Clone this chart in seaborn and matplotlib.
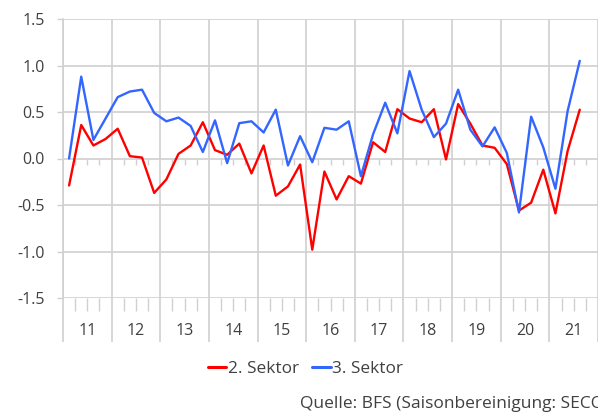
import numpy as np
import pandas as pd
import matplotlib
matplotlib.use("Agg")
import matplotlib.pyplot as plt
import matplotlib.transforms as mtransforms
from matplotlib.lines import Line2D
import seaborn as sns

# ---- data (quarterly, 2011Q1 .. 2021Q3) ----
years = [2011, 2012, 2013, 2014, 2015, 2016, 2017, 2018, 2019, 2020, 2021]
year_labels = ["11", "12", "13", "14", "15", "16", "17", "18", "19", "20", "21"]
quarters = [f"{y}Q{q}" for y in years for q in range(1, 5)][:43]

sektor2 = [-0.29, 0.36, 0.14, 0.21, 0.32, 0.025, 0.01, -0.37,
           -0.225, 0.05, 0.14, 0.39, 0.09, 0.04, 0.16, -0.16,
           0.14, -0.40, -0.30, -0.065, -0.98, -0.14, -0.44, -0.19,
           -0.27, 0.175, 0.07, 0.53, 0.43, 0.39, 0.53, -0.01,
           0.585, 0.375, 0.14, 0.115, -0.06, -0.56, -0.475, -0.12,
           -0.59, 0.08, 0.525]
sektor3 = [0.0, 0.88, 0.20, 0.43, 0.66, 0.72, 0.74, 0.49,
           0.40, 0.44, 0.35, 0.07, 0.41, -0.05, 0.38, 0.40,
           0.28, 0.525, -0.075, 0.24, -0.04, 0.33, 0.31, 0.40,
           -0.19, 0.26, 0.60, 0.27, 0.94, 0.525, 0.23, 0.375,
           0.74, 0.31, 0.13, 0.335, 0.06, -0.58, 0.45, 0.12,
           -0.325, 0.51, 1.05]
series_names = ["2. Sektor", "3. Sektor"]
colors = ["#FF0000", "#3366FF"]

idx = np.arange(len(quarters))
df = pd.DataFrame({
    "Quartal": np.concatenate([idx, idx]),
    "Wert": sektor2 + sektor3,
    "Serie": [series_names[0]] * len(idx) + [series_names[1]] * len(idx),
})

# ---- styling ----
sns.set_theme(style="white")
plt.rcParams["font.family"] = ["Open Sans", "DejaVu Sans"]
plt.rcParams["axes.unicode_minus"] = False
txt = "#404040"
grid = "#D0D0D0"
fs = 11.5

fig = plt.figure(figsize=(5.98, 4.12), dpi=100)
ax = fig.add_axes([63 / 598, 1 - 298 / 412, 535 / 598, (298 - 19) / 412])

sns.lineplot(data=df, x="Quartal", y="Wert", hue="Serie",
             palette=dict(zip(series_names, colors)), linewidth=1.7,
             ax=ax, legend=False)

nq = len(years) * 4
ax.set_xlim(-0.5, nq - 0.5)
ax.set_ylim(-1.5, 1.5)
ax.set_xlabel("")
ax.set_ylabel("")

# y axis
yt = np.arange(-1.5, 1.51, 0.5)
ax.set_yticks(yt)
ax.set_yticklabels([f"{v:.1f}" for v in yt], color=txt, fontsize=fs)
ax.tick_params(axis="y", length=4.3, width=1, color=grid, pad=9, left=True)
ax.yaxis.grid(True, color=grid, lw=1.2)

# x axis: year boundaries (major), quarter boundaries (minor)
year_bounds = np.arange(-0.5, nq, 4)
quarter_bounds = [b for b in np.arange(-0.5, nq, 1) if (b + 0.5) % 4 != 0]
ax.set_xticks(year_bounds)
ax.set_xticks(quarter_bounds, minor=True)
ax.set_xticklabels([])
ax.tick_params(axis="x", which="major", length=32, width=1.2, color=grid,
               bottom=True, direction="out")
ax.tick_params(axis="x", which="minor", length=9, width=1, color=grid,
               bottom=True, direction="out")
ax.xaxis.grid(True, which="major", color=grid, lw=1.2)

# small ticks along zero line
ax.vlines(quarter_bounds, 0, -0.075, color=grid, lw=1, zorder=1)

# year labels centered in each year
trans = mtransforms.blended_transform_factory(ax.transData, ax.transAxes)
for b, lab in zip(year_bounds, year_labels):
    ax.text(b + 2, -0.118, lab, transform=trans, ha="center", va="center",
            fontsize=fs, color=txt)

for s in ["top", "right", "bottom"]:
    ax.spines[s].set_visible(False)
ax.spines["left"].set_color(grid)
ax.spines["left"].set_linewidth(1.2)

# legend
handles = [Line2D([], [], color=c, lw=2.2) for c in colors]
fig.legend(handles, series_names, loc="center", bbox_to_anchor=(305.5 / 598, 1 - 369 / 412),
           ncol=2, frameon=False, fontsize=12.4, handlelength=1.05, handletextpad=0.08,
           columnspacing=0.8, labelcolor=txt, borderpad=0, borderaxespad=0)

fig.text(300 / 598, 1 - 404 / 412, "Quelle: BFS (Saisonbereinigung: SECO)",
         ha="left", va="center", fontsize=12.5, color=txt)

fig.savefig("out.png", dpi=100)
